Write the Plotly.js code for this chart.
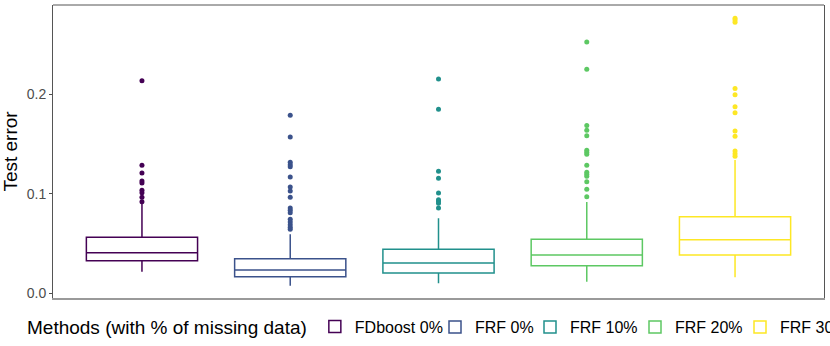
<!DOCTYPE html>
<html>
<head>
<meta charset="utf-8">
<script src="https://cdn.plot.ly/plotly-3.0.1.min.js"></script>
<style>
  html, body { margin: 0; padding: 0; overflow: hidden; background: #fff; }
  #chart { width: 880px; height: 346px; }
</style>
</head>
<body>
<div id="chart"></div>
<script>
// methods and colours (viridis, 5 levels)
const methods = ["FDboost 0%", "FRF 0%", "FRF 10%", "FRF 20%", "FRF 30%"];
const colors  = ["#440154", "#3B528B", "#21908C", "#5DC863", "#FDE725"];

// box statistics
const q1         = [0.0328, 0.0167, 0.0204, 0.0277, 0.0385];
const median     = [0.0408, 0.0234, 0.0305, 0.0385, 0.0539];
const q3         = [0.0563, 0.0348, 0.0442, 0.0543, 0.0770];
const lowerfence = [0.0217, 0.0076, 0.0100, 0.0117, 0.0161];
const upperfence = [0.0905, 0.0593, 0.0754, 0.0918, 0.1340];

// outliers per method
const outliers = [
    [0.2137, 0.1287, 0.1209, 0.1129, 0.1109, 0.1035, 0.1011, 0.0965, 0.0921],
    [0.1789, 0.1571, 0.1317, 0.1293, 0.1273, 0.1169, 0.1068, 0.1028, 0.0965,
     0.0857, 0.0834, 0.0810, 0.0744, 0.0717, 0.0690, 0.0663, 0.0643],
    [0.2154, 0.1849, 0.1226, 0.1156, 0.1008, 0.0941, 0.0925, 0.0905, 0.0857],
    [0.2526, 0.2251, 0.1685, 0.1638, 0.1584, 0.1437, 0.1417, 0.1397, 0.1286,
     0.1216, 0.1196, 0.1176, 0.1122, 0.1045, 0.0971],
    [0.2764, 0.2747, 0.2724, 0.2057, 0.1996, 0.1875, 0.1815, 0.1631, 0.1578,
     0.1430, 0.1403, 0.1377]
];

const yTicks = [0, 0.1, 0.2];
const yTickText = ["0.0", "0.1", "0.2"];

const W = 880;   // drawn wider than the window so the last legend entry is cut like the original
// left edge (px) of each legend entry
const legendLeft = [25, 435, 530, 635, 740];
const legendKeys = ["legend", "legend2", "legend3", "legend4", "legend5"];

const traces = [];

methods.forEach((m, i) => {
    traces.push({
        type: "box",
        name: m,
        x: [m],
        q1: [q1[i]],
        median: [median[i]],
        q3: [q3[i]],
        lowerfence: [lowerfence[i]],
        upperfence: [upperfence[i]],
        width: 0.75,
        whiskerwidth: 0,
        fillcolor: "rgba(255,255,255,1)",
        line: { color: colors[i], width: 1.5 },
        legend: legendKeys[i],
        hoverinfo: "skip"
    });
});

methods.forEach((m, i) => {
    traces.push({
        type: "scatter",
        mode: "markers",
        x: outliers[i].map(() => m),
        y: outliers[i],
        marker: { color: colors[i], size: 5 },
        showlegend: false,
        hoverinfo: "skip"
    });
});

const layout = {
    width: W,
    height: 346,
    margin: { l: 53, r: W - 824, t: 5, b: 48 },
    paper_bgcolor: "#fff",
    plot_bgcolor: "#fff",
    font: { family: "Liberation Sans, Arial, sans-serif", color: "#000" },
    showlegend: true,
    xaxis: {
        type: "category",
        categoryorder: "array",
        categoryarray: methods,
        range: [-0.6, 4.6],
        showticklabels: false,
        ticks: "",
        showgrid: false,
        zeroline: false,
        showline: true,
        linecolor: "#9a9a9a",
        linewidth: 1.5,
        fixedrange: true
    },
    yaxis: {
        range: [-0.0047, 0.2897],
        tickvals: yTicks,
        ticktext: yTickText,
        tickfont: { size: 14, color: "#4D4D4D" },
        ticks: "outside",
        ticklen: 3,
        tickcolor: "#4D4D4D",
        showgrid: false,
        zeroline: false,
        showline: true,
        mirror: true,
        linecolor: "#555",
        linewidth: 1,
        title: { text: "Test error", font: { size: 19, color: "#000" }, standoff: 6 },
        fixedrange: true
    },
    shapes: [{
        type: "line", xref: "paper", yref: "paper",
        x0: 0, x1: 1, y0: 1, y1: 1,
        line: { color: "#555", width: 1 }
    }]
};

legendKeys.forEach((k, i) => {
    layout[k] = {
        orientation: "h",
        xref: "container",
        yref: "container",
        x: legendLeft[i] / W,
        xanchor: "left",
        y: 1 - 327 / 346,
        yanchor: "middle",
        font: { size: 16, color: "#000" },
        itemwidth: 30,
        bgcolor: "rgba(0,0,0,0)"
    };
});
layout.legend.title = {
    text: "Methods (with % of missing data)",
    side: "left",
    font: { size: 19, color: "#000" }
};

Plotly.newPlot("chart", traces, layout, { displayModeBar: false, staticPlot: true });
</script>
</body>
</html>
